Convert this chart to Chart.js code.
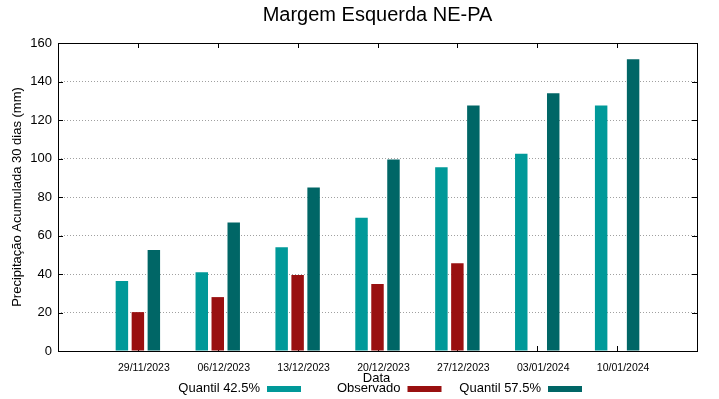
<!DOCTYPE html>
<html>
<head>
<meta charset="utf-8">
<script src="https://cdn.jsdelivr.net/npm/chart.js@4.4.1/dist/chart.umd.min.js"></script>
<style>
  body { margin: 0; background: #fff; }
  canvas { display: block; }
</style>
</head>
<body>
<canvas id="chart" width="719" height="399"></canvas>
<script>
const chartTitle = 'Margem Esquerda NE-PA';
const yTitle = 'Precipitação Acumulada 30 dias (mm)';
const xTitle = 'Data';

const dates = ['29/11/2023', '06/12/2023', '13/12/2023', '20/12/2023', '27/12/2023', '03/01/2024', '10/01/2024'];
const seriesNames = ['Quantil 42.5%', 'Observado', 'Quantil 57.5%'];
const quantil425 = [36.4, 40.9, 53.9, 69.2, 95.5, 102.5, 127.5];
const observado = [20.2, 28.0, 39.5, 34.8, 45.6, null, null];
const quantil575 = [52.5, 66.8, 85.0, 99.5, 127.5, 133.9, 151.6];
const seriesColors = ['#009999', '#991010', '#006666'];

const FONT = "'Liberation Sans', Arial, sans-serif";
Chart.defaults.color = '#000';
Chart.defaults.font.family = FONT;

// empty slot on each side, so the axis runs from -1 to 7 like the original
const labels = ['', ...dates, ''];
const pad = arr => [null, ...arr, null];

// frame, inner ticks, title, x label and gnuplot style legend
const gnuplotDecor = {
  id: 'gnuplotDecor',
  beforeDatasetsDraw(chart) {
    const { ctx, chartArea: a, scales } = chart;
    ctx.save();
    ctx.strokeStyle = '#000';
    ctx.lineWidth = 1;
    ctx.beginPath();
    for (let v = 20; v < 160; v += 20) {
      const y = Math.round(scales.y.getPixelForValue(v)) + 0.5;
      ctx.moveTo(a.left, y); ctx.lineTo(a.left + 5, y);
      ctx.moveTo(a.right, y); ctx.lineTo(a.right - 5, y);
    }
    for (let i = 1; i <= dates.length; i++) {
      const x = Math.round(scales.x.getPixelForValue(i)) + 0.5;
      ctx.moveTo(x, a.bottom); ctx.lineTo(x, a.bottom - 5);
      ctx.moveTo(x, a.top); ctx.lineTo(x, a.top + 5);
    }
    ctx.stroke();
    ctx.restore();
  },
  afterDraw(chart) {
    const { ctx, chartArea: a } = chart;
    ctx.save();
    ctx.strokeStyle = '#000';
    ctx.lineWidth = 1;
    ctx.strokeRect(Math.round(a.left) + 0.5, Math.round(a.top) + 0.5,
      Math.round(a.right - a.left), Math.round(a.bottom - a.top));

    ctx.fillStyle = '#000';
    ctx.textBaseline = 'middle';
    ctx.textAlign = 'center';
    ctx.font = '20px ' + FONT;
    ctx.fillText(chartTitle, (a.left + a.right) / 2, 15);

    ctx.font = '13px ' + FONT;
    ctx.fillText(xTitle, (a.left + a.right) / 2 - 1, 378);

    // legend: text first, then the swatch
    chart.data.datasets.forEach((ds, i) => {
      const sx = 267 + i * 140.5;
      ctx.fillStyle = '#000';
      ctx.textAlign = 'right';
      ctx.fillText(ds.label, sx - 7, 388);
      ctx.fillStyle = ds.backgroundColor;
      ctx.fillRect(sx, 386, 34, 6);
    });
    ctx.restore();
  }
};

new Chart(document.getElementById('chart').getContext('2d'), {
  type: 'bar',
  data: {
    labels: labels,
    datasets: [
      { label: seriesNames[0], data: pad(quantil425), backgroundColor: seriesColors[0] },
      { label: seriesNames[1], data: pad(observado), backgroundColor: seriesColors[1] },
      { label: seriesNames[2], data: pad(quantil575), backgroundColor: seriesColors[2] }
    ]
  },
  options: {
    responsive: false,
    animation: false,
    layout: { padding: { top: 43, right: 22, bottom: 0, left: 0 } },
    datasets: {
      bar: { categoryPercentage: 0.6, barPercentage: 0.78, borderWidth: 0 }
    },
    plugins: {
      legend: { display: false },
      title: { display: false },
      tooltip: { enabled: false }
    },
    scales: {
      x: {
        offset: false,
        grid: { display: false, offset: false },
        border: { display: false },
        ticks: {
          autoSkip: false,
          maxRotation: 0,
          padding: 3,
          labelOffset: 6,
          font: { size: 10.5 }
        },
        afterFit(scale) { scale.height = 48; }
      },
      y: {
        min: 0,
        max: 160,
        grid: { color: '#a0a0a0', drawTicks: false },
        border: { display: false, dash: [1, 2] },
        ticks: { stepSize: 20, padding: 6, font: { size: 13 } },
        title: {
          display: true,
          text: yTitle,
          font: { size: 13 },
          padding: { top: 10, bottom: 0 }
        },
        afterFit(scale) { scale.width = 58; }
      }
    }
  },
  plugins: [gnuplotDecor]
});
</script>
</body>
</html>
